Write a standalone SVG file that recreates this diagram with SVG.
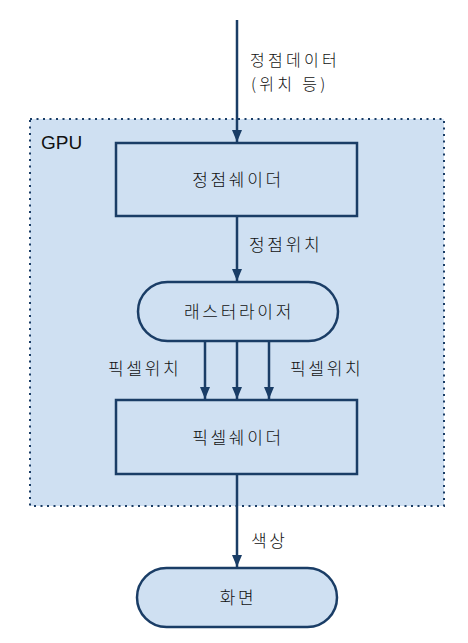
<svg xmlns="http://www.w3.org/2000/svg" width="468" height="643" viewBox="0 0 468 643">
<defs>
<marker id="ah" markerWidth="12" markerHeight="10" refX="12" refY="5" orient="auto" markerUnits="userSpaceOnUse" viewBox="0 0 12 10">
<path d="M0,0 L12,5 L0,10 Z" fill="#1a3d66"/>
</marker>
</defs>
<style>
.node{fill:#cfe0f2;stroke:#1a3d66;stroke-width:2.5}
.t{font-family:"Noto Sans CJK KR","Liberation Sans",sans-serif;font-size:17px;font-weight:300;letter-spacing:2.7px;fill:#111}
.c{text-anchor:middle}
.edge{stroke:#1a3d66;stroke-width:2.5;fill:none}
</style>
<rect width="468" height="643" fill="#fff"/>
<g id="gpu">
<rect x="30" y="119" width="414" height="387" fill="#cfe0f2" stroke="#1a3d66" stroke-width="2" stroke-dasharray="2 4.5"/>
<text x="41" y="149" font-family="Liberation Sans,Arial,sans-serif" font-size="19" fill="#111">GPU</text>
</g>
<g id="vertex-shader">
<rect class="node" x="116" y="143" width="241" height="73"/>
<text class="t c" x="238" y="186">정점쉐이더</text>
</g>
<g id="rasterizer">
<rect class="node" x="138" y="282" width="200" height="59" rx="29.5"/>
<text class="t c" x="239" y="318">래스터라이저</text>
</g>
<g id="pixel-shader">
<rect class="node" x="116" y="400" width="241" height="74"/>
<text class="t c" x="238" y="444">픽셀쉐이더</text>
</g>
<g id="screen">
<rect class="node" x="137" y="568" width="200" height="59" rx="29.5"/>
<text class="t c" x="238" y="604">화면</text>
</g>
<g id="connectors">
<path d="M237,20 L237,142" class="edge" marker-end="url(#ah)"/>
<path d="M237,216 L237,281" class="edge" marker-end="url(#ah)"/>
<path d="M205,341 L205,399" class="edge" marker-end="url(#ah)"/>
<path d="M237,341 L237,399" class="edge" marker-end="url(#ah)"/>
<path d="M269,341 L269,399" class="edge" marker-end="url(#ah)"/>
<path d="M237,474 L237,567" class="edge" marker-end="url(#ah)"/>
<text class="t" style="font-size:16px;letter-spacing:3.3px"><tspan x="250" y="66">정점데이터</tspan><tspan x="251" dy="23.6">(위치 등)</tspan></text>
<text class="t" x="249" y="251">정점위치</text>
<text class="t" x="108" y="375">픽셀위치</text>
<text class="t" x="290" y="375">픽셀위치</text>
<text class="t" x="251" y="547">색상</text>
</g>
</svg>
